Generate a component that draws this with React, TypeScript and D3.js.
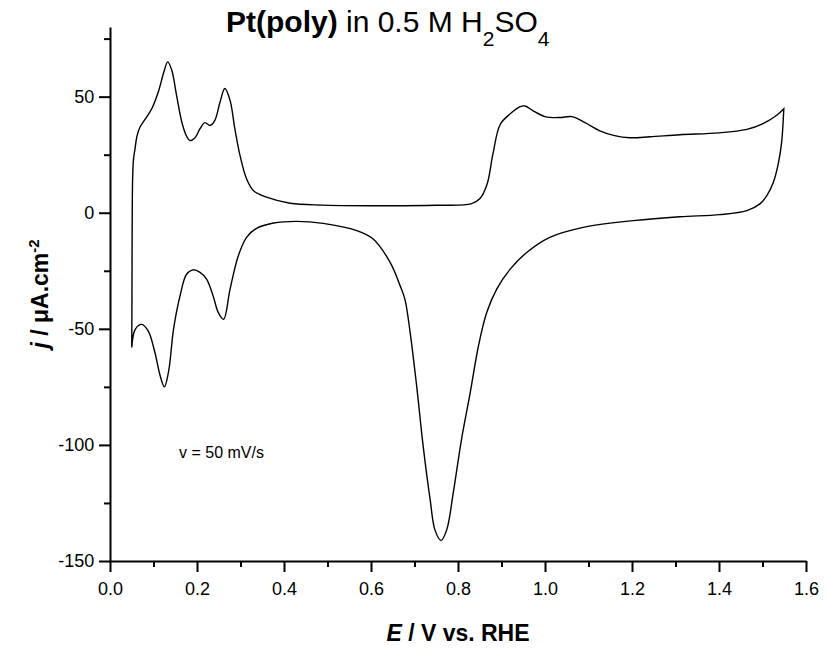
import React, { useRef, useEffect } from 'react';
import * as d3 from 'd3';

// anodic sweep (0.05 -> 1.55 V)
const anodicE = [0.05, 0.0505, 0.051, 0.052, 0.054, 0.0575, 0.062, 0.069, 0.084, 0.096, 0.111, 0.124, 0.1326, 0.142, 0.153, 0.165, 0.176, 0.184, 0.195, 0.207, 0.218, 0.23, 0.241, 0.253, 0.264, 0.276, 0.287, 0.299, 0.314, 0.33, 0.36, 0.414, 0.49, 0.644, 0.75, 0.83, 0.85, 0.867, 0.88, 0.897, 0.92, 0.943, 0.954, 0.972, 1.0, 1.034, 1.062, 1.092, 1.126, 1.16, 1.195, 1.241, 1.31, 1.4, 1.464, 1.5, 1.532, 1.549];
const anodicJ = [-58, -35, -5, 14.6, 23, 27.5, 33, 36.9, 41.2, 44.8, 52.0, 60.7, 65.0, 61.4, 50.6, 39.1, 33, 31.1, 32.2, 36.2, 38.8, 37.6, 39.8, 47.7, 53.5, 48.4, 36.2, 24.6, 14.6, 9.5, 6.7, 4.1, 3.3, 3.0, 3.2, 3.8, 6, 12.4, 25, 38, 42.6, 45.7, 46, 44, 41.4, 41, 41.4, 38.8, 35.3, 33.2, 32.3, 32.7, 33.6, 34.4, 35.9, 38.3, 41.9, 44.8];

// cathodic sweep (1.55 -> 0.05 V)
const cathodicE = [1.549, 1.544, 1.537, 1.525, 1.51, 1.494, 1.464, 1.402, 1.31, 1.203, 1.088, 1.011, 0.958, 0.92, 0.889, 0.866, 0.847, 0.828, 0.808, 0.789, 0.774, 0.761, 0.747, 0.736, 0.72, 0.705, 0.69, 0.678, 0.667, 0.644, 0.605, 0.567, 0.49, 0.429, 0.376, 0.337, 0.314, 0.295, 0.276, 0.261, 0.249, 0.237, 0.222, 0.207, 0.191, 0.176, 0.161, 0.146, 0.135, 0.125, 0.115, 0.103, 0.088, 0.073, 0.058, 0.05];
const cathodicJ = [44.8, 30.4, 21.8, 13.1, 7.4, 3.8, 0.9, -0.8, -1.7, -3.4, -6.3, -10.6, -17.1, -24.3, -32.9, -43, -57.4, -77.6, -97.7, -120.8, -136.6, -141.2, -136.6, -123.6, -100.6, -74.7, -51.6, -37.3, -31.5, -21.4, -11.3, -7.7, -4.6, -3.7, -4.4, -6.7, -10.6, -18.5, -32.9, -45.9, -43, -35.8, -28.6, -25.7, -24.6, -26.5, -35.8, -50.2, -68, -75, -70, -60, -51, -48.1, -50.2, -58];

const xTicks = [0, 0.2, 0.4, 0.6, 0.8, 1.0, 1.2, 1.4, 1.6];
const xMinor = [0.1, 0.3, 0.5, 0.7, 0.9, 1.1, 1.3, 1.5];
const yTicks = [-150, -100, -50, 0, 50];
const yMinor = [-125, -75, -25, 25, 75];

const width = 826;
const height = 655;

const CVChart = () => {
  const svgRef = useRef(null);

  useEffect(() => {
    const svg = d3.select(svgRef.current);
    svg.selectAll('*').remove();

    const margin = { top: 27, right: 20, bottom: 94, left: 110 };
    const x = d3.scaleLinear().domain([0, 1.6]).range([margin.left, width - margin.right]);
    const y = d3.scaleLinear().domain([-150, 80]).range([height - margin.bottom, margin.top]);

    const font = 'Arial, "Liberation Sans", sans-serif';

    // x axis
    const gx = svg.append('g').attr('transform', `translate(0,${y(-150)})`);
    gx.call(d3.axisBottom(x).tickValues(xTicks).tickSize(11).tickSizeOuter(0)
      .tickFormat(d3.format('.1f')));
    gx.append('g').call(d3.axisBottom(x).tickValues(xMinor).tickSize(6).tickFormat(() => ''))
      .select('.domain').remove();

    // y axis
    const gy = svg.append('g').attr('transform', `translate(${x(0)},0)`);
    gy.call(d3.axisLeft(y).tickValues(yTicks).tickSize(11).tickSizeOuter(0)
      .tickFormat(d => String(d)));
    gy.append('g').call(d3.axisLeft(y).tickValues(yMinor).tickSize(6).tickFormat(() => ''))
      .select('.domain').remove();

    svg.selectAll('.domain').attr('stroke', '#000').attr('stroke-width', 2);
    svg.selectAll('.tick line').attr('stroke', '#000').attr('stroke-width', 2);
    svg.selectAll('.tick text')
      .attr('font-family', font)
      .attr('font-size', 18)
      .attr('fill', '#000');
    gx.selectAll('.tick text').attr('dy', '1.1em');
    gy.selectAll('.tick text').attr('dx', '-0.1em');

    // the voltammogram
    const pts = anodicE.map((e, i) => [e, anodicJ[i]])
      .concat(cathodicE.map((e, i) => [e, cathodicJ[i]]));
    svg.append('path')
      .datum(pts)
      .attr('fill', 'none')
      .attr('stroke', '#000')
      .attr('stroke-width', 1.4)
      .attr('d', d3.line()
        .x(d => x(d[0]))
        .y(d => y(d[1]))
        .curve(d3.curveCatmullRom.alpha(0.5)));

    // title
    const title = svg.append('text')
      .attr('x', 226).attr('y', 32)
      .attr('font-family', font).attr('font-size', 30).attr('fill', '#000');
    title.append('tspan').attr('font-weight', 'bold').text('Pt(poly)');
    title.append('tspan').text(' in 0.5 M H');
    title.append('tspan').attr('font-size', 21).attr('dy', 14).text('2');
    title.append('tspan').attr('dy', -14).text('SO');
    title.append('tspan').attr('font-size', 21).attr('dy', 14).text('4');

    // x label
    const xl = svg.append('text')
      .attr('x', (x(0) + x(1.6)) / 2).attr('y', 641)
      .attr('text-anchor', 'middle')
      .attr('font-family', font).attr('font-size', 23).attr('font-weight', 'bold');
    xl.append('tspan').attr('font-style', 'italic').text('E');
    xl.append('tspan').text(' / V vs. RHE');

    // y label
    const yl = svg.append('text')
      .attr('transform', `translate(48,${(y(-150) + y(80)) / 2}) rotate(-90)`)
      .attr('text-anchor', 'middle')
      .attr('font-family', font).attr('font-size', 23).attr('font-weight', 'bold');
    yl.append('tspan').attr('font-style', 'italic').text('j');
    yl.append('tspan').text(' / \u03bcA.cm');
    yl.append('tspan').attr('font-size', 15).attr('dy', -9).text('-2');

    // scan rate note
    svg.append('text')
      .attr('x', 179).attr('y', 458)
      .attr('font-family', font).attr('font-size', 16)
      .text('v = 50 mV/s');
  }, []);

  return (
    <svg ref={svgRef} width={width} height={height}
      style={{ position: 'absolute', left: 0, top: 0, background: '#fff' }} />
  );
};

export default function App() {
  return <CVChart />;
}
